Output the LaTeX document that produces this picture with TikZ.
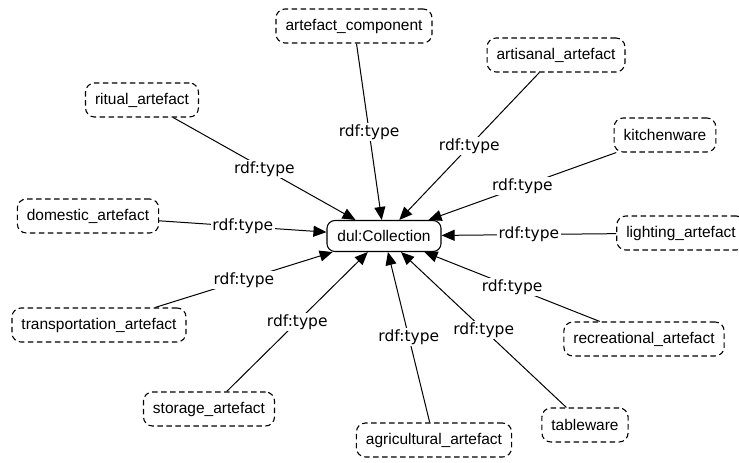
\documentclass[tikz,border=0pt]{standalone}
\usepackage{fontspec}
\setmainfont{Liberation Sans}
\newfontfamily\labelfont{DejaVu Sans}
\usetikzlibrary{arrows.meta}

\begin{document}
\begin{tikzpicture}[x=1pt,y=-1pt]
\tikzstyle{every node}+=[font=\fontsize{15.5}{18}\selectfont]
\tikzstyle{cls}=[draw, rounded corners=9pt, dash pattern=on 5.5pt off 3.5pt, line width=1.1pt, minimum height=34pt, inner xsep=9.5pt]
\tikzstyle{hub}=[draw, rounded corners=8pt, line width=1.1pt, minimum height=31pt, inner xsep=10.5pt]
\tikzstyle{rel}=[fill=white, inner sep=1.5pt, font=\labelfont\fontsize{15.5}{18}\selectfont]
\tikzstyle{isa}=[black, line width=1pt, -{Triangle[length=13pt,width=11pt]}]
\useasboundingbox (0,0) rectangle (739,463);
% the collection and its members
\node [hub] (coll) at (384,236) {dul:Collection};
\node [cls] (comp) at (354,26) {artefact\_component};
\node [cls] (artis) at (556,55) {artisanal\_artefact};
\node [cls] (ritual) at (142,100) {ritual\_artefact};
\node [cls] (kitchen) at (665,135) {kitchenware};
\node [cls] (dom) at (88,216) {domestic\_artefact};
\node [cls] (light) at (681,233) {lighting\_artefact};
\node [cls] (trans) at (99,325) {transportation\_artefact};
\node [cls] (recr) at (644,339) {recreational\_artefact};
\node [cls] (store) at (209,409) {storage\_artefact};
\node [cls] (table) at (585,425) {tableware};
\node [cls] (agri) at (434,440) {agricultural\_artefact};
% rdf:type edges
\foreach \m in {comp,artis,ritual,kitchen,dom,light,trans,recr,store,table,agri}
  \draw [isa] (\m) -- node [rel] {rdf:type} (coll);
\end{tikzpicture}
\end{document}
